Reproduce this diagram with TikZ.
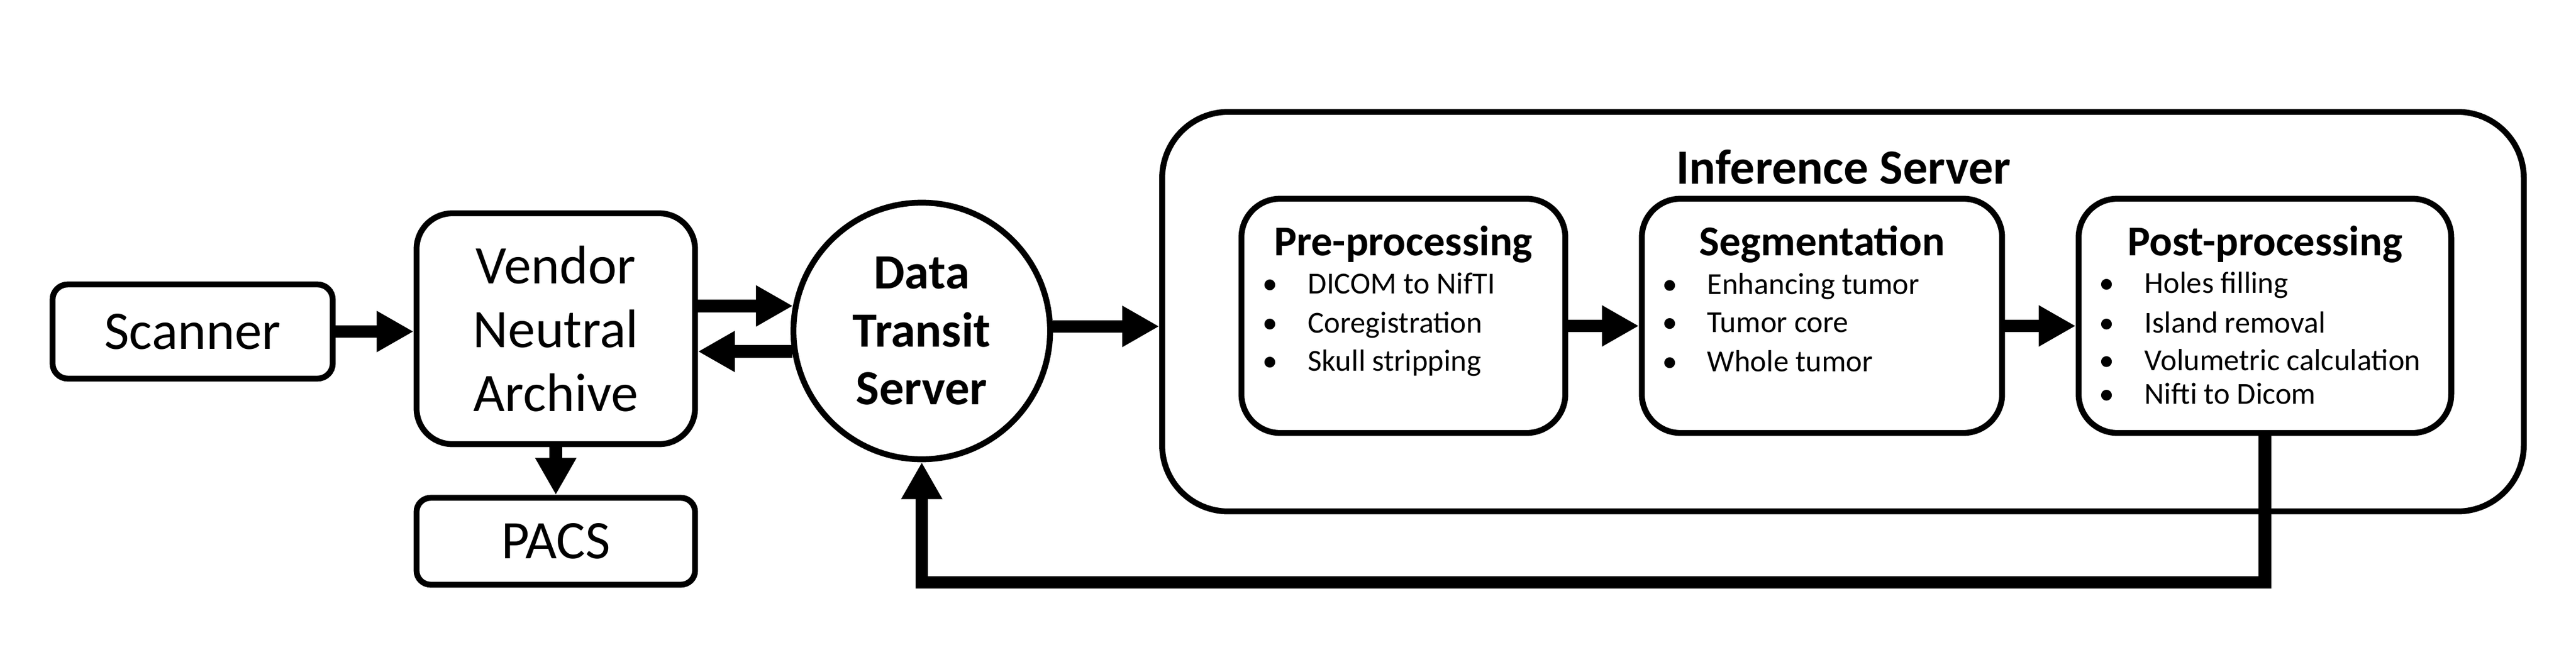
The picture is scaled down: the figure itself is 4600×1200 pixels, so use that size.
\documentclass[tikz,border=0pt]{standalone}
\usepackage{fontspec}
\setmainfont{Carlito}
\usetikzlibrary{arrows.meta,calc}
\tikzset{
  box/.style={draw, line width=0.105cm, inner sep=0pt, align=center, fill=white},
  mainfont/.style={font=\fontsize{27.6}{32.4}\selectfont},
  titlefont/.style={font=\bfseries\fontsize{21.6}{26}\selectfont},
  itemfont/.style={font=\fontsize{15.5}{19}\selectfont},
  arr/.style={line width=0.225cm, -{Triangle[length=0.66cm,width=0.69cm]}},
}
\begin{document}
\begin{tikzpicture}[x=0.01cm,y=-0.01cm]
\useasboundingbox (0,0) rectangle (4600,1200);

% left side
\node[box, mainfont, rounded corners=0.27cm, minimum width=5.0cm, minimum height=1.68cm] (scanner) at (344,592) {Scanner};
\node[box, mainfont, rounded corners=0.64cm, minimum width=4.97cm, minimum height=4.12cm] (vna) at (992.5,587) {Vendor\\Neutral\\Archive};
\node[box, mainfont, rounded corners=0.25cm, minimum width=4.97cm, minimum height=1.55cm] (pacs) at (992.5,966.5) {PACS};
\node[box, circle, minimum size=4.58cm, font=\bfseries\fontsize{25}{29.4}\selectfont] (dts) at (1646,591) {Data\\Transit\\Server};

% inference server
\node[box, rounded corners=1.18cm, minimum width=24.30cm, minimum height=7.13cm] (inf) at (3291,556.5) {};
\node[anchor=base, font=\bfseries\fontsize{25}{30}\selectfont] (inftitle) at (3292,328) {Inference Server};

\node[box, rounded corners=0.69cm, minimum width=5.78cm, minimum height=4.18cm] (pre) at (2506,564) {};
\node[box, rounded corners=0.69cm, minimum width=6.43cm, minimum height=4.18cm] (seg) at (3253.5,564) {};
\node[box, rounded corners=0.69cm, minimum width=6.65cm, minimum height=4.18cm] (post) at (4044.5,564) {};

\node[anchor=base, titlefont] (pretitle) at (2506,456) {Pre-processing};
\node[anchor=base, titlefont] (segtitle) at (3253.5,456) {Segmentation};
\node[anchor=base, titlefont] (posttitle) at (4044.5,456) {Post-processing};

% bullets and items
\foreach \bx/\tx/\y/\t/\n in {
  2268/2335/524/DICOM to NifTI/pa, 2268/2335/594/Coregistration/pb, 2268/2335/662/Skull stripping/pc,
  2982/3048/525/Enhancing tumor/sa, 2982/3048/593/Tumor core/sb, 2982/3048/663/Whole tumor/sc,
  3762/3829/523/Holes filling/qa, 3762/3829/594/Island removal/qb, 3762/3829/661/Volumetric calculation/qc, 3762/3829/721/Nifti to Dicom/qd}{
  \node[anchor=base, itemfont, inner sep=0pt] (b\n) at (\bx,\y) {•};
  \node[anchor=base west, itemfont, inner sep=0pt] (t\n) at (\tx,\y) {\t};
}

% connectors
\draw[arr] (scanner.east) -- (vna.west |- scanner.east);
\draw[arr] (vna.east |- dts.169.4) -- (dts.169.4);
\draw[arr] (dts.189) -- (vna.east |- dts.189);
\draw[arr] (vna.south) -- (pacs.north);
\draw[arr] (dts.2.2) -- (inf.west |- dts.2.2);
\draw[arr] ([yshift=-0.18cm]pre.east) -- ([yshift=-0.18cm]seg.west);
\draw[arr] ([yshift=-0.18cm]seg.east) -- ([yshift=-0.18cm]post.west);
\coordinate (fb) at (1646,1040);
\draw[arr, line join=miter] (post.south) |- (fb) -- (dts.south);
\end{tikzpicture}
\end{document}
